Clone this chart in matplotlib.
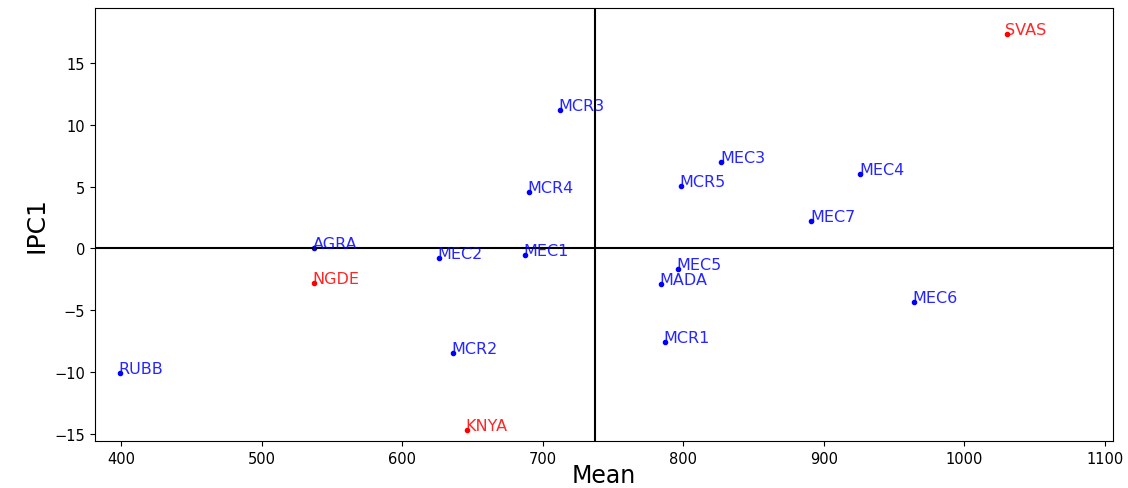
import matplotlib.pyplot as plt

# genotype / environment labels, means and IPC1 scores
names = ["SVAS", "MCR3", "MEC3", "MEC4", "MCR5", "MCR4", "MEC7", "AGRA", "MEC2",
         "MEC1", "MEC5", "MADA", "NGDE", "MEC6", "MCR1", "MCR2", "RUBB", "KNYA"]
means = [1030, 712, 827, 926, 798, 690, 891, 537, 626,
         687, 796, 784, 537, 964, 787, 636, 399, 646]
ipc1 = [17.4, 11.2, 7.0, 6.0, 5.1, 4.6, 2.2, 0.0, -0.8,
        -0.5, -1.7, -2.9, -2.8, -4.3, -7.6, -8.5, -10.1, -14.7]
colors = ["red", "blue", "blue", "blue", "blue", "blue", "blue", "blue", "blue",
          "blue", "blue", "blue", "red", "blue", "blue", "blue", "blue", "red"]
grand_mean = 737

fig = plt.figure(figsize=(11.28, 4.89), dpi=100)
ax = fig.add_axes([0.084, 0.096, 0.903, 0.886])

for name, x, y, c in zip(names, means, ipc1, colors):
    ax.plot(x, y, "o", color=c, markersize=3)
    ax.annotate(name, (x, y), xytext=(-1, 0), textcoords="offset points",
                color=c, fontsize=11.5, alpha=0.85)

ax.axhline(0, color="black", linewidth=1.5)
ax.axvline(grand_mean, color="black", linewidth=1.5)

ax.set_xlim(381, 1106)
ax.set_ylim(-15.6, 19.5)
ax.set_xlabel("Mean", fontsize=17, labelpad=-2)
ax.set_ylabel("IPC1", fontsize=18)
ax.tick_params(labelsize=10.5)

plt.savefig("out.png")
